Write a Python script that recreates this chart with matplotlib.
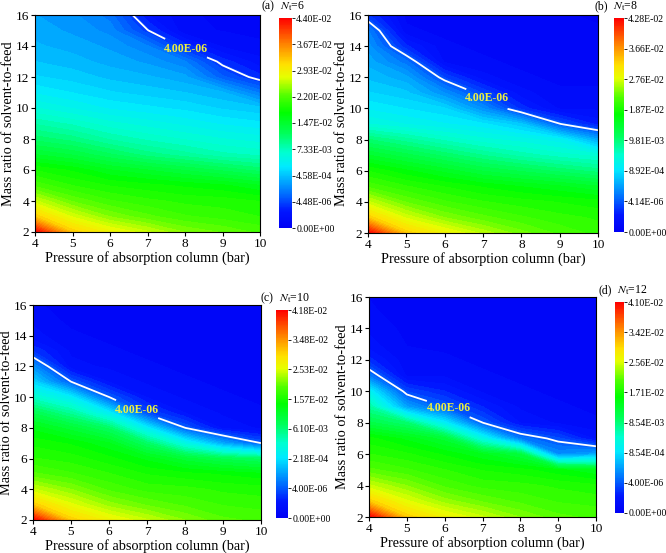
import numpy as np
import matplotlib.pyplot as plt
from matplotlib.colors import LinearSegmentedColormap, FuncNorm
from matplotlib.cm import ScalarMappable

plt.rcParams['font.family'] = ['Liberation Serif', 'DejaVu Serif']
plt.rcParams['mathtext.fontset'] = 'stix'

# grid: columns = pressure (bar), rows = mass ratio of solvent-to-feed
pressure = [4, 5, 6, 7, 8, 9, 10]
mass_ratio = [2, 3, 4, 5, 6, 7, 8, 9, 10, 11, 12, 13, 14, 15, 16]

stages = [6, 8, 10, 12]
panel_tags = ['(a)', '(b)', '(c)', '(d)']

ticks_a = [0.0, 4.48e-6, 4.58e-4, 7.33e-3, 1.47e-2, 2.20e-2, 2.93e-2, 3.67e-2, 4.40e-2]
ticks_b = [0.0, 4.14e-6, 8.92e-4, 9.81e-3, 1.87e-2, 2.76e-2, 3.66e-2, 4.28e-2]
ticks_c = [0.0, 4.00e-6, 2.18e-4, 6.10e-3, 1.57e-2, 2.53e-2, 3.48e-2, 4.18e-2]
ticks_d = [0.0, 4.00e-6, 8.54e-4, 8.54e-3, 1.71e-2, 2.56e-2, 3.42e-2, 4.10e-2]

conc_a = [
    [4.40e-2, 3.23e-2, 2.87e-2, 2.64e-2, 2.40e-2, 2.29e-2, 2.17e-2],
    [3.23e-2, 2.70e-2, 2.40e-2, 2.23e-2, 2.11e-2, 2.05e-2, 1.99e-2],
    [2.64e-2, 2.29e-2, 2.11e-2, 2.02e-2, 1.96e-2, 1.94e-2, 1.88e-2],
    [2.17e-2, 1.99e-2, 1.88e-2, 1.82e-2, 1.76e-2, 1.70e-2, 1.58e-2],
    [1.88e-2, 1.76e-2, 1.58e-2, 1.47e-2, 1.35e-2, 1.23e-2, 1.11e-2],
    [1.47e-2, 1.35e-2, 1.17e-2, 9.97e-3, 8.80e-3, 7.62e-3, 7.06e-3],
    [1.11e-2, 9.97e-3, 8.21e-3, 7.06e-3, 6.23e-3, 5.41e-3, 4.86e-3],
    [8.21e-3, 7.06e-3, 5.68e-3, 4.86e-3, 4.03e-3, 3.21e-3, 2.66e-3],
    [5.41e-3, 4.31e-3, 3.21e-3, 2.66e-3, 2.11e-3, 1.28e-3, 7.33e-4],
    [3.21e-3, 2.38e-3, 1.56e-3, 1.01e-3, 4.58e-4, 4.04e-4, 1.82e-4],
    [1.56e-3, 1.01e-3, 4.40e-4, 4.04e-4, 3.49e-4, 8.79e-5, 3.44e-6],
    [4.58e-4, 4.22e-4, 3.67e-4, 3.13e-4, 2.04e-4, 3.57e-6, 2.15e-6],
    [4.04e-4, 3.67e-4, 3.13e-4, 2.04e-4, 3.57e-6, 1.79e-6, 1.43e-6],
    [3.67e-4, 3.13e-4, 2.40e-4, 4.07e-6, 1.43e-6, 1.25e-6, 1.08e-6],
    [3.31e-4, 2.77e-4, 1.68e-4, 2.61e-6, 1.43e-6, 1.08e-6, 9.0e-7],
]

conc_b = [
    [4.28e-2, 3.30e-2, 2.92e-2, 2.61e-2, 2.36e-2, 2.17e-2, 2.05e-2],
    [3.30e-2, 2.73e-2, 2.42e-2, 2.24e-2, 2.11e-2, 2.02e-2, 1.96e-2],
    [2.67e-2, 2.30e-2, 2.11e-2, 1.99e-2, 1.92e-2, 1.86e-2, 1.80e-2],
    [2.17e-2, 1.99e-2, 1.86e-2, 1.74e-2, 1.64e-2, 1.55e-2, 1.43e-2],
    [1.86e-2, 1.67e-2, 1.49e-2, 1.30e-2, 1.18e-2, 1.05e-2, 9.28e-3],
    [1.43e-2, 1.24e-2, 1.05e-2, 8.65e-3, 7.09e-3, 5.84e-3, 4.91e-3],
    [9.90e-3, 8.03e-3, 6.15e-3, 4.59e-3, 3.66e-3, 2.41e-3, 4.84e-4],
    [4.28e-3, 3.03e-3, 2.10e-3, 1.16e-3, 6.95e-4, 4.06e-6, 2.41e-6],
    [1.78e-3, 8.88e-4, 7.94e-4, 3.34e-4, 2.88e-6, 1.45e-6, 1.45e-6],
    [7.94e-4, 7.01e-4, 3.34e-4, 3.58e-6, 1.74e-6, 1.16e-6, 1.16e-6],
    [6.39e-4, 4.84e-4, 3.58e-6, 1.74e-6, 1.16e-6, 8.7e-7, 8.7e-7],
    [5.15e-4, 1.60e-4, 1.45e-6, 1.16e-6, 8.7e-7, 7.2e-7, 7.2e-7],
    [3.90e-4, 2.70e-6, 1.16e-6, 8.7e-7, 7.2e-7, 5.8e-7, 5.8e-7],
    [2.35e-4, 1.16e-6, 8.7e-7, 7.2e-7, 5.8e-7, 5.8e-7, 5.8e-7],
    [3.19e-6, 8.7e-7, 7.2e-7, 5.8e-7, 5.8e-7, 5.8e-7, 4.3e-7],
]

conc_c = [
    [4.18e-2, 3.10e-2, 2.70e-2, 2.43e-2, 2.17e-2, 1.96e-2, 1.90e-2],
    [3.10e-2, 2.57e-2, 2.23e-2, 2.03e-2, 1.90e-2, 1.80e-2, 1.76e-2],
    [2.43e-2, 2.17e-2, 1.90e-2, 1.76e-2, 1.73e-2, 1.66e-2, 1.63e-2],
    [1.96e-2, 1.83e-2, 1.70e-2, 1.56e-2, 1.49e-2, 1.43e-2, 1.36e-2],
    [1.70e-2, 1.63e-2, 1.49e-2, 1.29e-2, 1.02e-2, 8.21e-3, 6.87e-3],
    [1.53e-2, 1.43e-2, 1.22e-2, 6.87e-3, 2.04e-3, 1.20e-4, 4.96e-6],
    [1.29e-2, 1.02e-2, 6.87e-3, 8.06e-4, 4.96e-6, 1.84e-6, 1.4e-6],
    [8.21e-3, 4.92e-3, 8.06e-4, 3.51e-6, 1.96e-6, 1.4e-6, 1.12e-6],
    [3.28e-3, 8.06e-4, 4.96e-6, 1.96e-6, 1.4e-6, 1.12e-6, 8.4e-7],
    [1.94e-4, 4.96e-6, 1.96e-6, 1.4e-6, 1.12e-6, 8.4e-7, 7.0e-7],
    [8.66e-5, 1.68e-6, 1.4e-6, 1.12e-6, 8.4e-7, 7.0e-7, 5.6e-7],
    [2.97e-6, 1.4e-6, 1.12e-6, 8.4e-7, 7.0e-7, 5.6e-7, 5.6e-7],
    [1.68e-6, 1.12e-6, 8.4e-7, 7.0e-7, 5.6e-7, 5.6e-7, 5.6e-7],
    [1.4e-6, 8.4e-7, 7.0e-7, 5.6e-7, 5.6e-7, 5.6e-7, 5.6e-7],
    [1.12e-6, 7.0e-7, 5.6e-7, 5.6e-7, 5.6e-7, 5.6e-7, 5.6e-7],
]

conc_d = [
    [4.10e-2, 3.08e-2, 2.72e-2, 2.48e-2, 2.24e-2, 2.06e-2, 2.00e-2],
    [3.08e-2, 2.59e-2, 2.30e-2, 2.12e-2, 2.00e-2, 1.91e-2, 1.88e-2],
    [2.48e-2, 2.24e-2, 2.00e-2, 1.88e-2, 1.85e-2, 1.79e-2, 1.73e-2],
    [2.06e-2, 1.94e-2, 1.82e-2, 1.70e-2, 1.64e-2, 1.52e-2, 1.40e-2],
    [1.82e-2, 1.73e-2, 1.58e-2, 1.40e-2, 1.16e-2, 3.20e-4, 4.63e-4],
    [1.64e-2, 1.46e-2, 1.22e-2, 3.24e-3, 1.89e-4, 3.63e-6, 1.85e-6],
    [1.10e-2, 8.63e-3, 1.62e-3, 7.8e-6, 1.96e-6, 1.4e-6, 1.12e-6],
    [7.00e-3, 4.51e-4, 7.8e-6, 2.52e-6, 1.4e-6, 1.12e-6, 8.4e-7],
    [2.16e-3, 3.47e-6, 2.52e-6, 1.4e-6, 1.12e-6, 8.4e-7, 7.0e-7],
    [1.89e-4, 1.4e-6, 1.4e-6, 1.12e-6, 8.4e-7, 7.0e-7, 5.6e-7],
    [2.69e-6, 1.12e-6, 1.12e-6, 8.4e-7, 7.0e-7, 5.6e-7, 5.6e-7],
    [1.68e-6, 9.8e-7, 8.4e-7, 7.0e-7, 5.6e-7, 5.6e-7, 5.6e-7],
    [1.4e-6, 8.4e-7, 7.0e-7, 5.6e-7, 5.6e-7, 5.6e-7, 5.6e-7],
    [1.12e-6, 7.0e-7, 5.6e-7, 5.6e-7, 5.6e-7, 5.6e-7, 5.6e-7],
    [9.8e-7, 5.6e-7, 5.6e-7, 5.6e-7, 5.6e-7, 5.6e-7, 5.6e-7],
]

iso_level = 4.00e-6
label_pos = [(8.0, 13.7), (7.1, 10.6), (6.7, 9.0), (6.1, 8.9)]

# Origin-like rainbow palette
rainbow = LinearSegmentedColormap.from_list('rainbow_origin', [
    (0.0, '#0000f5'), (0.08, '#0016ff'), (0.15, '#0062ff'), (0.29, '#00eaff'),
    (0.36, '#00ffd0'), (0.45, '#00ff5a'), (0.55, '#00ff00'), (0.63, '#50ff00'),
    (0.72, '#e6ff00'), (0.78, '#ffe000'), (0.88, '#ff8000'), (1.0, '#ff0000')])


def make_norm(tick_vals):
    pos = np.linspace(0, 1, len(tick_vals))
    fwd = lambda v: np.interp(v, tick_vals, pos)
    inv = lambda t: np.interp(t, pos, tick_vals)
    return FuncNorm((fwd, inv), vmin=tick_vals[0], vmax=tick_vals[-1])


fig = plt.figure(figsize=(6.66, 5.53), dpi=100)

ax_boxes = [[35, 15, 260, 232], [368, 15, 598, 233], [33, 305, 261, 520], [369, 297, 596, 517]]
cb_boxes = [[279, 18, 292, 228], [614, 18, 624, 232], [276, 310, 288, 518], [615, 302, 624, 513]]
tag_xy = [(268, 6), (601, 6), (267, 298), (605, 290)]


def to_fig(box):
    x0, y0, x1, y1 = box
    return [x0 / 666, 1 - y1 / 553, (x1 - x0) / 666, (y1 - y0) / 553]


all_conc = [conc_a, conc_b, conc_c, conc_d]
all_ticks = [ticks_a, ticks_b, ticks_c, ticks_d]

for i in range(4):
    ax = fig.add_axes(to_fig(ax_boxes[i]))
    norm = make_norm(all_ticks[i])
    # shade in colour-scale position so the gradient follows the colour bar
    zt = norm(np.array(all_conc[i]))
    ax.contourf(pressure, mass_ratio, zt, levels=np.linspace(0, 1, 57), cmap=rainbow)
    cs = ax.contour(pressure, mass_ratio, zt, levels=[float(norm(iso_level))],
                    colors='white', linewidths=1.3)
    labels = ax.clabel(cs, fmt={cs.levels[0]: '%.2E' % iso_level}, manual=[label_pos[i]],
                       inline=True, inline_spacing=1, fontsize=8.5, colors='#eef040')
    for t in labels:
        t.set_rotation(0)
        t.set_fontweight('bold')

    ax.set_xlim(4, 10)
    ax.set_ylim(2, 16)
    ax.set_xticks(range(4, 11))
    ax.set_yticks(range(2, 17, 2))
    ax.tick_params(direction='out', length=3, width=0.8, labelsize=9.5, pad=1)
    ax.set_xlabel('Pressure of absorption column (bar)', fontsize=10.3, labelpad=1)
    ax.set_ylabel('Mass ratio of solvent-to-feed', fontsize=10.3, labelpad=1)
    for sp in ax.spines.values():
        sp.set_linewidth(0.8)

    cax = fig.add_axes(to_fig(cb_boxes[i]))
    cb = fig.colorbar(ScalarMappable(norm=norm, cmap=rainbow), cax=cax)
    cb.set_ticks(all_ticks[i])
    cb.set_ticklabels(['%.2E' % v for v in all_ticks[i]])
    cb.ax.tick_params(length=2, width=0.6, labelsize=7, pad=1)
    cb.outline.set_visible(False)

    tx, ty = tag_xy[i]
    fig.text(tx / 666, 1 - ty / 553, panel_tags[i], fontsize=8.5, ha='center', va='center')
    fig.text((tx + 12) / 666, 1 - ty / 553, r'$N_{\mathrm{t}}$=%d' % stages[i],
             fontsize=8.5, ha='left', va='center')

fig.savefig('out.png', dpi=100)
